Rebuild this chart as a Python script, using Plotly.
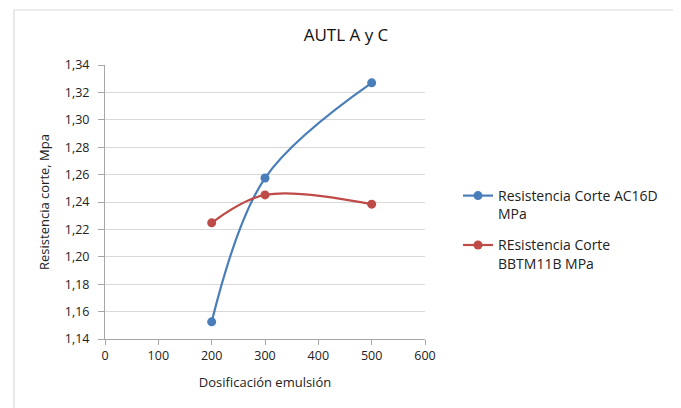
import plotly.graph_objects as go

dosificacion = [200, 300, 500]
ac16d = [1.1525, 1.2575, 1.327]
bbtm11b = [1.2248, 1.2452, 1.2384]
series_names = ["Resistencia Corte AC16D<br>MPa", "REsistencia Corte<br>BBTM11B MPa"]
x_ticks = [0, 100, 200, 300, 400, 500, 600]
y_ticks = [1.14, 1.16, 1.18, 1.20, 1.22, 1.24, 1.26, 1.28, 1.30, 1.32, 1.34]

FONT = "Open Sans"
OFF = 8  # page body margin
L, R, T, B = 105 - OFF, 425 - OFF, 65 - OFF, 339 - OFF
W, H = 681 - OFF, 408 - OFF

fig = go.Figure()
fig.add_trace(go.Scatter(x=dosificacion, y=ac16d, name=series_names[0], mode="lines+markers",
                         legendgroup="g1",
                         line=dict(color="#4a7ebb", width=2.2, shape="spline", smoothing=1.0),
                         marker=dict(size=9, color="#4a7ebb")))
fig.add_trace(go.Scatter(x=dosificacion, y=bbtm11b, name=series_names[1], mode="lines+markers",
                         legendgroup="g2",
                         line=dict(color="#be4b48", width=2.2, shape="spline", smoothing=1.0),
                         marker=dict(size=9, color="#be4b48")))

px2x = lambda p: (p - OFF - L) / (R - L)
px2y = lambda p: (B - (p - OFF)) / (B - T)

fig.update_layout(
    width=W, height=H,
    margin=dict(l=L, r=W - R, t=T, b=H - B),
    paper_bgcolor="white", plot_bgcolor="white",
    font=dict(family=FONT, size=12.5, color="#222"),
    title=dict(text="AUTL A y C", x=(346 - OFF) / W, xref="container", xanchor="center",
               y=1 - (35 - OFF) / H, yref="container", yanchor="middle",
               font=dict(family=FONT, size=17, color="#111")),
    xaxis=dict(range=[0, 600], tickvals=x_ticks, ticktext=[str(v) for v in x_ticks],
               showgrid=False, zeroline=False, showline=True, linecolor="#a6a6a6", linewidth=1,
               ticks="outside", ticklen=5, tickcolor="#a6a6a6",
               title=dict(text="Dosificación emulsión", standoff=14, font=dict(size=13))),
    yaxis=dict(range=[1.14, 1.34], tickvals=y_ticks,
               ticktext=[f"{v:.2f}".replace(".", ",") for v in y_ticks],
               showgrid=True, gridcolor="#d9d9d9", gridwidth=1, zeroline=False,
               showline=True, linecolor="#a6a6a6", linewidth=1,
               ticks="outside", ticklen=6, tickcolor="#a6a6a6", ticklabelstandoff=6,
               title=dict(text="Resistencia corte, Mpa", standoff=12, font=dict(size=13))),
    legend=dict(x=px2x(458), y=px2y(180), xanchor="left", yanchor="top", valign="top",
                font=dict(family=FONT, size=14), tracegroupgap=10, itemwidth=30,
                traceorder="grouped", bgcolor="rgba(0,0,0,0)"),
    shapes=[dict(type="rect", xref="paper", yref="paper",
                 x0=px2x(14), x1=px2x(678), y0=px2y(412), y1=px2y(10),
                 line=dict(color="#d9d9d9", width=1.2), fillcolor="rgba(0,0,0,0)", layer="below")],
)

fig.write_html("out.html")
